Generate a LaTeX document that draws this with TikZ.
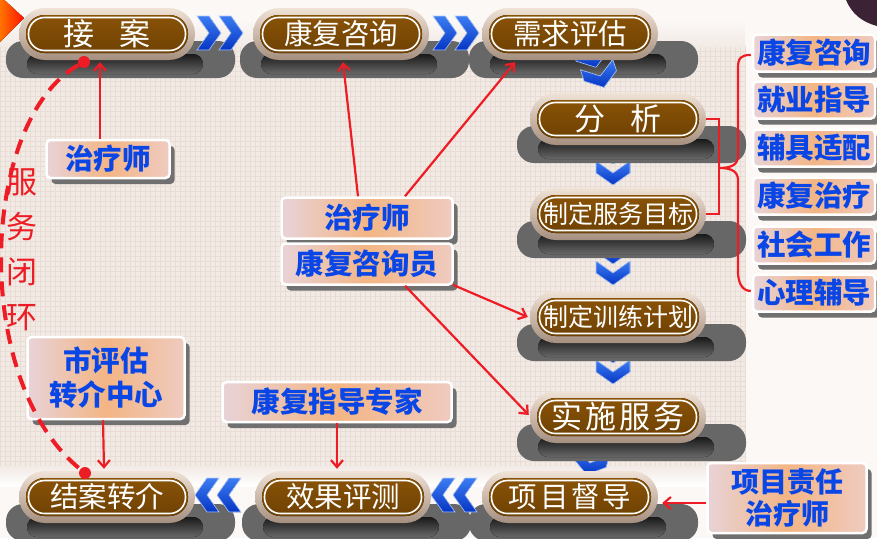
\documentclass[tikz,border=0pt]{standalone}
\usepackage{fontspec}
\newfontfamily\cjk{Noto Sans CJK SC}
\usetikzlibrary{shapes.misc,calc,shadows,arrows.meta}
\definecolor{rimT}{HTML}{F0E2D6}
\definecolor{rimB}{HTML}{A58F7F}
\definecolor{brwT}{HTML}{8E5608}
\definecolor{brwB}{HTML}{6A3E02}
\definecolor{shgray}{HTML}{676767}
\definecolor{lblL}{HTML}{E8D3D8}
\definecolor{lblM}{HTML}{F3B584}
\definecolor{lblR}{HTML}{EFCBC0}
\definecolor{lblS}{HTML}{707070}
\definecolor{bluT}{HTML}{0A46E6}
\definecolor{redc}{HTML}{EE1C24}
\definecolor{chevT}{HTML}{3C7CF2}
\definecolor{chevB}{HTML}{0636C4}
\definecolor{bgb}{HTML}{F2EAE5}
\definecolor{bgg}{HTML}{E8DCD5}
\definecolor{bgw}{HTML}{FBF8F6}
\definecolor{darkc}{HTML}{3B2235}
\pgfdeclarelayer{back}
\pgfdeclarelayer{shad}
\pgfsetlayers{back,shad,main}
\newcommand\chev[3]{\begin{scope}[shift={(#1,#2)},rotate=#3]
  \fill[top color=chevT,bottom color=chevB,draw=white!60!chevT,line width=0.6pt]
  (-11,-17) -- (1,-17) -- (13,0) -- (1,17) -- (-11,17) -- (1,0) -- cycle;
  \end{scope}}
\newcommand\pA{\cjk\fontsize{31}{33}\selectfont}
\newcommand\pB{\cjk\fontsize{28.5}{30}\selectfont}
\newcommand\pC{\cjk\fontsize{25}{27}\selectfont}
\tikzset{
  pill/.style={rounded rectangle, minimum width=176pt, minimum height=52pt, inner sep=0pt,
    top color=rimT, bottom color=rimB, text=white,
    path picture={
      \fill[top color=brwT, bottom color=brwB, rounded corners=18.5pt]
        ([shift={(7pt,-7pt)}]path picture bounding box.north west) rectangle
        ([shift={(-7pt,7pt)}]path picture bounding box.south east);
      \draw[white, line width=1.6pt, rounded corners=16pt]
        ([shift={(9.5pt,-9.5pt)}]path picture bounding box.north west) rectangle
        ([shift={(-9.5pt,9.5pt)}]path picture bounding box.south east);}},
  lbl/.style={rectangle, rounded corners=4pt, draw=white, line width=2.5pt,
    left color=lblL, right color=lblR, middle color=lblM, text=bluT,
    font=\cjk\bfseries\fontsize{28.5}{34}\selectfont, align=center, inner sep=0pt,
    drop shadow={shadow xshift=5pt, shadow yshift=-6pt, fill=lblS, opacity=1}},
  redline/.style={draw=redc, line width=2.2pt},
  redarr/.style={redline, -{Straight Barb[length=7pt,width=12pt,line width=2.2pt]}},
}
\begin{document}
\begin{tikzpicture}[x=1pt,y=-1pt]
\useasboundingbox (0,0) rectangle (877,538);
\begin{pgfonlayer}{back}
  \fill[bgw] (0,0) rectangle (877,538);
  \fill[bgb] (0,46) rectangle (745,466);
  \foreach \i in {0,5,...,745}{\draw[bgg, line width=0.5pt] (\i,46) -- (\i,466);}
  \foreach \j in {46,51,...,466}{\draw[bgg, line width=0.5pt] (0,\j) -- (745,\j);}
  \fill[top color=bgw, bottom color=bgb] (0,20) rectangle (745,46);
  \fill[top color=bgb, bottom color=white] (0,466) rectangle (745,486);
  % corner decorations
  \fill[left color=orange!90!red, right color=red!85!orange] (0,-4) -- (24,18) -- (0,42) -- cycle;
  \fill[darkc] (846,0) .. controls (852,14) and (862,22) .. (877,26) -- (877,0) -- cycle;
  % chevrons partly hidden under shadows
  \chev{613}{151}{-90}
  \chev{613}{172}{-90}
  \chev{613}{251}{-90}
  \chev{613}{272}{-90}
  \chev{613}{350}{-90}
  \chev{613}{371}{-90}
  \chev{590}{462}{-105}
\end{pgfonlayer}

% chevrons in front of shadows
\chev{208}{33}{0}
\chev{230}{33}{0}
\chev{444}{33}{0}
\chev{466}{33}{0}
\chev{208}{495}{180}
\chev{230}{495}{180}
\chev{444}{495}{180}
\chev{466}{495}{180}
\chev{592}{55}{-72}
\chev{600}{75}{-72}

% process pills
\node[pill,font=\pA] (jiean) at (107,34) {接\hspace{0.8em}案};
\node[pill,font=\pB] (kfzx) at (341,34) {康复咨询};
\node[pill,font=\pB] (xqpg) at (570,34) {需求评估};
\node[pill,font=\pA] (fx) at (618,119) {分\hspace{0.8em}析};
\node[pill,font=\pC] (mb) at (618,214) {制定服务目标};
\node[pill,font=\pC] (jh) at (618,317) {制定训练计划};
\node[pill,font=\pA] (ss) at (618,417) {实\hspace{3pt}施\hspace{3pt}服\hspace{3pt}务};
\node[pill,font=\pB] (dd) at (570,497) {项\hspace{3pt}目\hspace{3pt}督\hspace{3pt}导};
\node[pill,font=\pB] (pc) at (343,497) {效果评测};
\node[pill,font=\pB] (ja) at (107,497) {结案转介};

\begin{pgfonlayer}{shad}
  \foreach \n in {jiean,kfzx,xqpg,fx,mb,jh,ss,dd,pc,ja}{
    \fill[shgray, rounded corners=17pt] ($(\n.center)+(-101,7)$) rectangle ($(\n.center)+(128,44)$);
    \fill[top color=black!90, bottom color=shgray, rounded corners=10pt] ($(\n.center)+(-80,20)$) rectangle ($(\n.center)+(96,40)$);
  }
\end{pgfonlayer}

% label boxes
\node[lbl, minimum width=123pt, minimum height=38pt] (zl) at (108,159) {治疗师};
\node[lbl, minimum width=171pt, minimum height=41pt] (zm) at (367,218) {治疗师};
\node[lbl, minimum width=171pt, minimum height=41pt] (kzy) at (367,264) {康复咨询员};
\node[lbl, minimum width=157pt, minimum height=82pt] (szz) at (106,378) {市评估\\转介中心};
\node[lbl, minimum width=229pt, minimum height=40pt] (kfzj) at (337,402) {康复指导专家};
\node[lbl, minimum width=159pt, minimum height=70pt, font=\cjk\bfseries\fontsize{28}{32}\selectfont] (xmzr) at (787,498) {项目责任\\治疗师};
\node[lbl, minimum width=122pt, minimum height=37pt] (rc1) at (814,53) {康复咨询};
\node[lbl, minimum width=122pt, minimum height=37pt] (rc2) at (814,100) {就业指导};
\node[lbl, minimum width=122pt, minimum height=37pt] (rc3) at (814,148) {辅具适配};
\node[lbl, minimum width=122pt, minimum height=37pt] (rc4) at (814,196) {康复治疗};
\node[lbl, minimum width=122pt, minimum height=37pt] (rc5) at (814,245) {社会工作};
\node[lbl, minimum width=122pt, minimum height=37pt] (rc6) at (814,293) {心理辅导};

% red connectors
\draw[redarr] ($(zl.north)+(-8,0)$) -- ($(jiean.south)+(-7,2)$);
\draw[redarr] ($(zm.north)+(-9,0)$) -- ($(kfzx.south)+(2,2)$);
\draw[redarr] ($(zm.north)+(38,0)$) -- ($(xqpg.south)+(-55,2)$);
\draw[redarr] ($(kzy.south east)+(-1,-1)$) -- ($(jh.west)+(-2,0)$);
\draw[redarr] ($(kzy.south)+(38,0)$) -- ($(ss.west)+(-1,-2)$);
\draw[redarr] ($(szz.south)+(-3,0)$) -- ($(ja.north)+(-3,-2)$);
\draw[redarr] (kfzj.south) -- ($(kfzj.south |- pc.north)+(0,-2)$);
\draw[redarr] ($(xmzr.west)+(0,5)$) -- ($(dd.east)+(4,6)$);
\draw[redline] (fx.east) -- ++(13,0) |- (mb.east);
\draw[redline] ($(rc1.west)+(-1,2)$) .. controls ++(-10,0) and (738,58) .. (738,68) -- (738,156)
  .. controls (738,164) and (732,168) .. (720,168)
  .. controls (732,168) and (738,172) .. (738,180) -- (738,272)
  .. controls (738,280) and ($(rc6.west)+(-11,-2)$) .. ($(rc6.west)+(-1,-2)$);

% closed loop
\node[circle, fill=redc, inner sep=0pt, minimum size=12pt] (dA) at (84,62) {};
\node[circle, fill=redc, inner sep=0pt, minimum size=12pt] (dB) at (85,473) {};
\draw[redc, line width=4pt, dash pattern=on 15pt off 9pt] (dA) .. controls (-20,120) and (-30,380) .. (dB);
\node[text=redc, font=\cjk\fontsize{31}{45}\selectfont, align=center, inner sep=0pt] (fwbh) at (22,250) {服\\务\\闭\\环};
\end{tikzpicture}
\end{document}
